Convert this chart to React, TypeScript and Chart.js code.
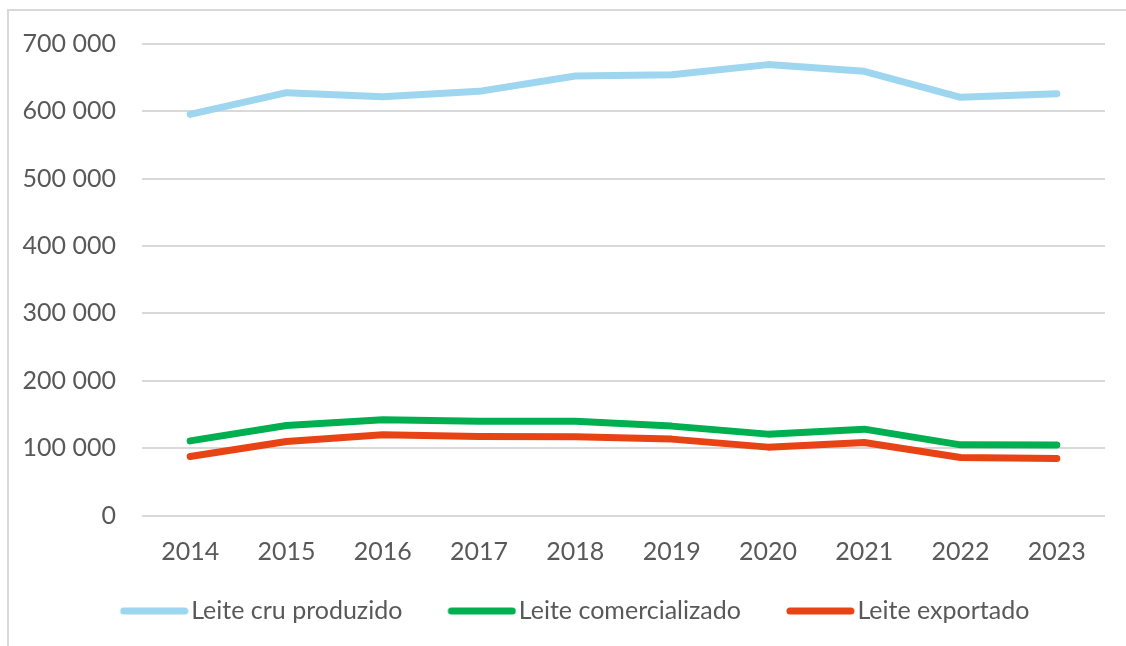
import React, { useEffect, useRef } from "react";
import { Chart, registerables } from "chart.js";

Chart.register(...registerables);

const years = ["2014", "2015", "2016", "2017", "2018", "2019", "2020", "2021", "2022", "2023"];
const leiteCruProduzido = [595500, 627800, 621800, 629700, 652500, 654500, 669400, 659400, 620800, 626300];
const leiteComercializado = [110800, 133600, 142000, 140100, 140100, 132700, 120800, 128200, 104900, 104500];
const leiteExportado = [87500, 109800, 119800, 117200, 116800, 113400, 101500, 108300, 86000, 84500];
const seriesNames = ["Leite cru produzido", "Leite comercializado", "Leite exportado"];
const seriesColors = ["#9DD6EE", "#00B050", "#E84315"];

const FONT = "Lato, 'Noto Sans', sans-serif";
const TEXT = "#595959";
const FONT_SIZE = 25;
const BOX_W = 54;

function fmt(v: number): string {
  const s = Math.round(v).toString();
  return s.replace(/\B(?=(\d{3})+(?!\d))/g, " ");
}

// legend swatch image: a thick rounded line, shifted so it sits close to the text
function makeSwatch(color: string): HTMLCanvasElement {
  const c = document.createElement("canvas");
  c.width = 74;
  c.height = 10;
  const ctx = c.getContext("2d")!;
  ctx.strokeStyle = color;
  ctx.lineWidth = 7;
  ctx.lineCap = "round";
  ctx.beginPath();
  ctx.moveTo(9, 5);
  ctx.lineTo(70, 5);
  ctx.stroke();
  return c;
}

// move the legend block to where the reference places it
const legendPlacer = {
  id: "legendPlacer",
  afterLayout(chart: any) {
    const lg = chart.legend;
    if (!lg) return;
    lg.top -= 23;
    lg.left += 24.5;
    lg.right += 24.5;
  },
};

export default function App() {
  const ref = useRef<HTMLCanvasElement | null>(null);

  useEffect(() => {
    if (!ref.current) return;
    const mk = (i: number, data: number[]) => ({
      label: seriesNames[i],
      data,
      borderColor: seriesColors[i],
      backgroundColor: seriesColors[i],
      borderWidth: 7,
      borderCapStyle: "round" as const,
      borderJoinStyle: "round" as const,
      pointRadius: 0,
      pointHoverRadius: 0,
      pointStyle: makeSwatch(seriesColors[i]) as any,
      tension: 0,
      fill: false,
    });
    const chart = new Chart(ref.current, {
      type: "line",
      data: {
        labels: years,
        datasets: [
          mk(0, leiteCruProduzido),
          mk(1, leiteComercializado),
          mk(2, leiteExportado),
        ],
      },
      plugins: [legendPlacer],
      options: {
        responsive: false,
        animation: false,
        layout: { padding: { top: 44, left: 0, right: 21, bottom: 14.5 } },
        plugins: {
          tooltip: { enabled: false },
          legend: {
            position: "bottom",
            maxHeight: 60,
            labels: {
              usePointStyle: true,
              pointStyleWidth: BOX_W,
              boxHeight: 7,
              padding: 50,
              color: TEXT,
              font: { family: FONT, size: FONT_SIZE },
            },
          },
        },
        scales: {
          x: {
            offset: true,
            grid: { display: false, drawTicks: false },
            border: { display: false },
            ticks: {
              color: TEXT,
              font: { family: FONT, size: FONT_SIZE },
              padding: 21,
              maxRotation: 0,
            },
            afterFit: (s: any) => {
              s.height = 56;
            },
          },
          y: {
            min: 0,
            max: 700000,
            grid: { color: "#D9D9D9", lineWidth: 2, drawTicks: false },
            border: { display: false },
            ticks: {
              stepSize: 100000,
              color: TEXT,
              font: { family: FONT, size: FONT_SIZE },
              padding: 26,
              callback: (v: any) => fmt(Number(v)),
            },
            afterFit: (s: any) => {
              s.width = 142;
            },
          },
        },
      },
    });
    return () => chart.destroy();
  }, []);

  return (
    <div
      style={{
        position: "fixed",
        left: 0,
        top: 0,
        width: 1126,
        height: 646,
        overflow: "hidden",
        background: "#fff",
      }}
    >
      <div
        style={{
          position: "absolute",
          left: 7,
          top: 9,
          width: 1300,
          height: 800,
          border: "2px solid #D9D9D9",
          boxSizing: "border-box",
        }}
      />
      <canvas
        ref={ref}
        width={1126}
        height={646}
        style={{ position: "absolute", left: 0, top: 0, display: "block" }}
      />
    </div>
  );
}
